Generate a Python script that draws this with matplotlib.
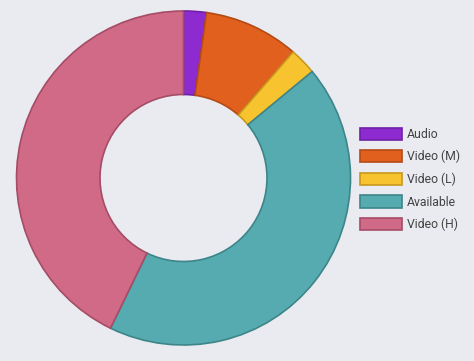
import matplotlib
matplotlib.use('Agg')
import matplotlib.pyplot as plt

labels = ['Audio', 'Video (M)', 'Video (L)', 'Available', 'Video (H)']
values = [2.2, 9.2, 2.6, 43.2, 42.8]
colors = ['#8d2bd1', '#e2601e', '#f7c430', '#55abb0', '#d06a87']
edges = ['#6f1fa8', '#b44a14', '#c9981c', '#3d8589', '#a54c66']

bg = '#eaebf0'
fig = plt.figure(figsize=(4.74, 3.61), dpi=100, facecolor=bg)
ax = fig.add_axes([16.5 / 474, 16 / 361, 334 / 474, 334 / 361])
ax.set_facecolor(bg)

wedges, _ = ax.pie(values, colors=colors, startangle=90, counterclock=False,
                   radius=1.0, wedgeprops=dict(width=0.5, linewidth=1.2))
for w, ec in zip(wedges, edges):
    w.set_edgecolor(ec)

ax.set_xlim(-1.0, 1.0)
ax.set_ylim(-1.0, 1.0)
ax.set_aspect('equal')
ax.axis('off')

fig.legend(wedges, labels, loc='upper left', bbox_to_anchor=(360 / 474, 1 - 127.5 / 361),
           frameon=False, prop={'family': 'Roboto', 'size': 8.8},
           handlelength=3.4, handleheight=1.15, labelspacing=0.76,
           handletextpad=0.45, borderaxespad=0, borderpad=0, labelcolor='#444444')

plt.savefig('out.png', dpi=100, facecolor=bg)
